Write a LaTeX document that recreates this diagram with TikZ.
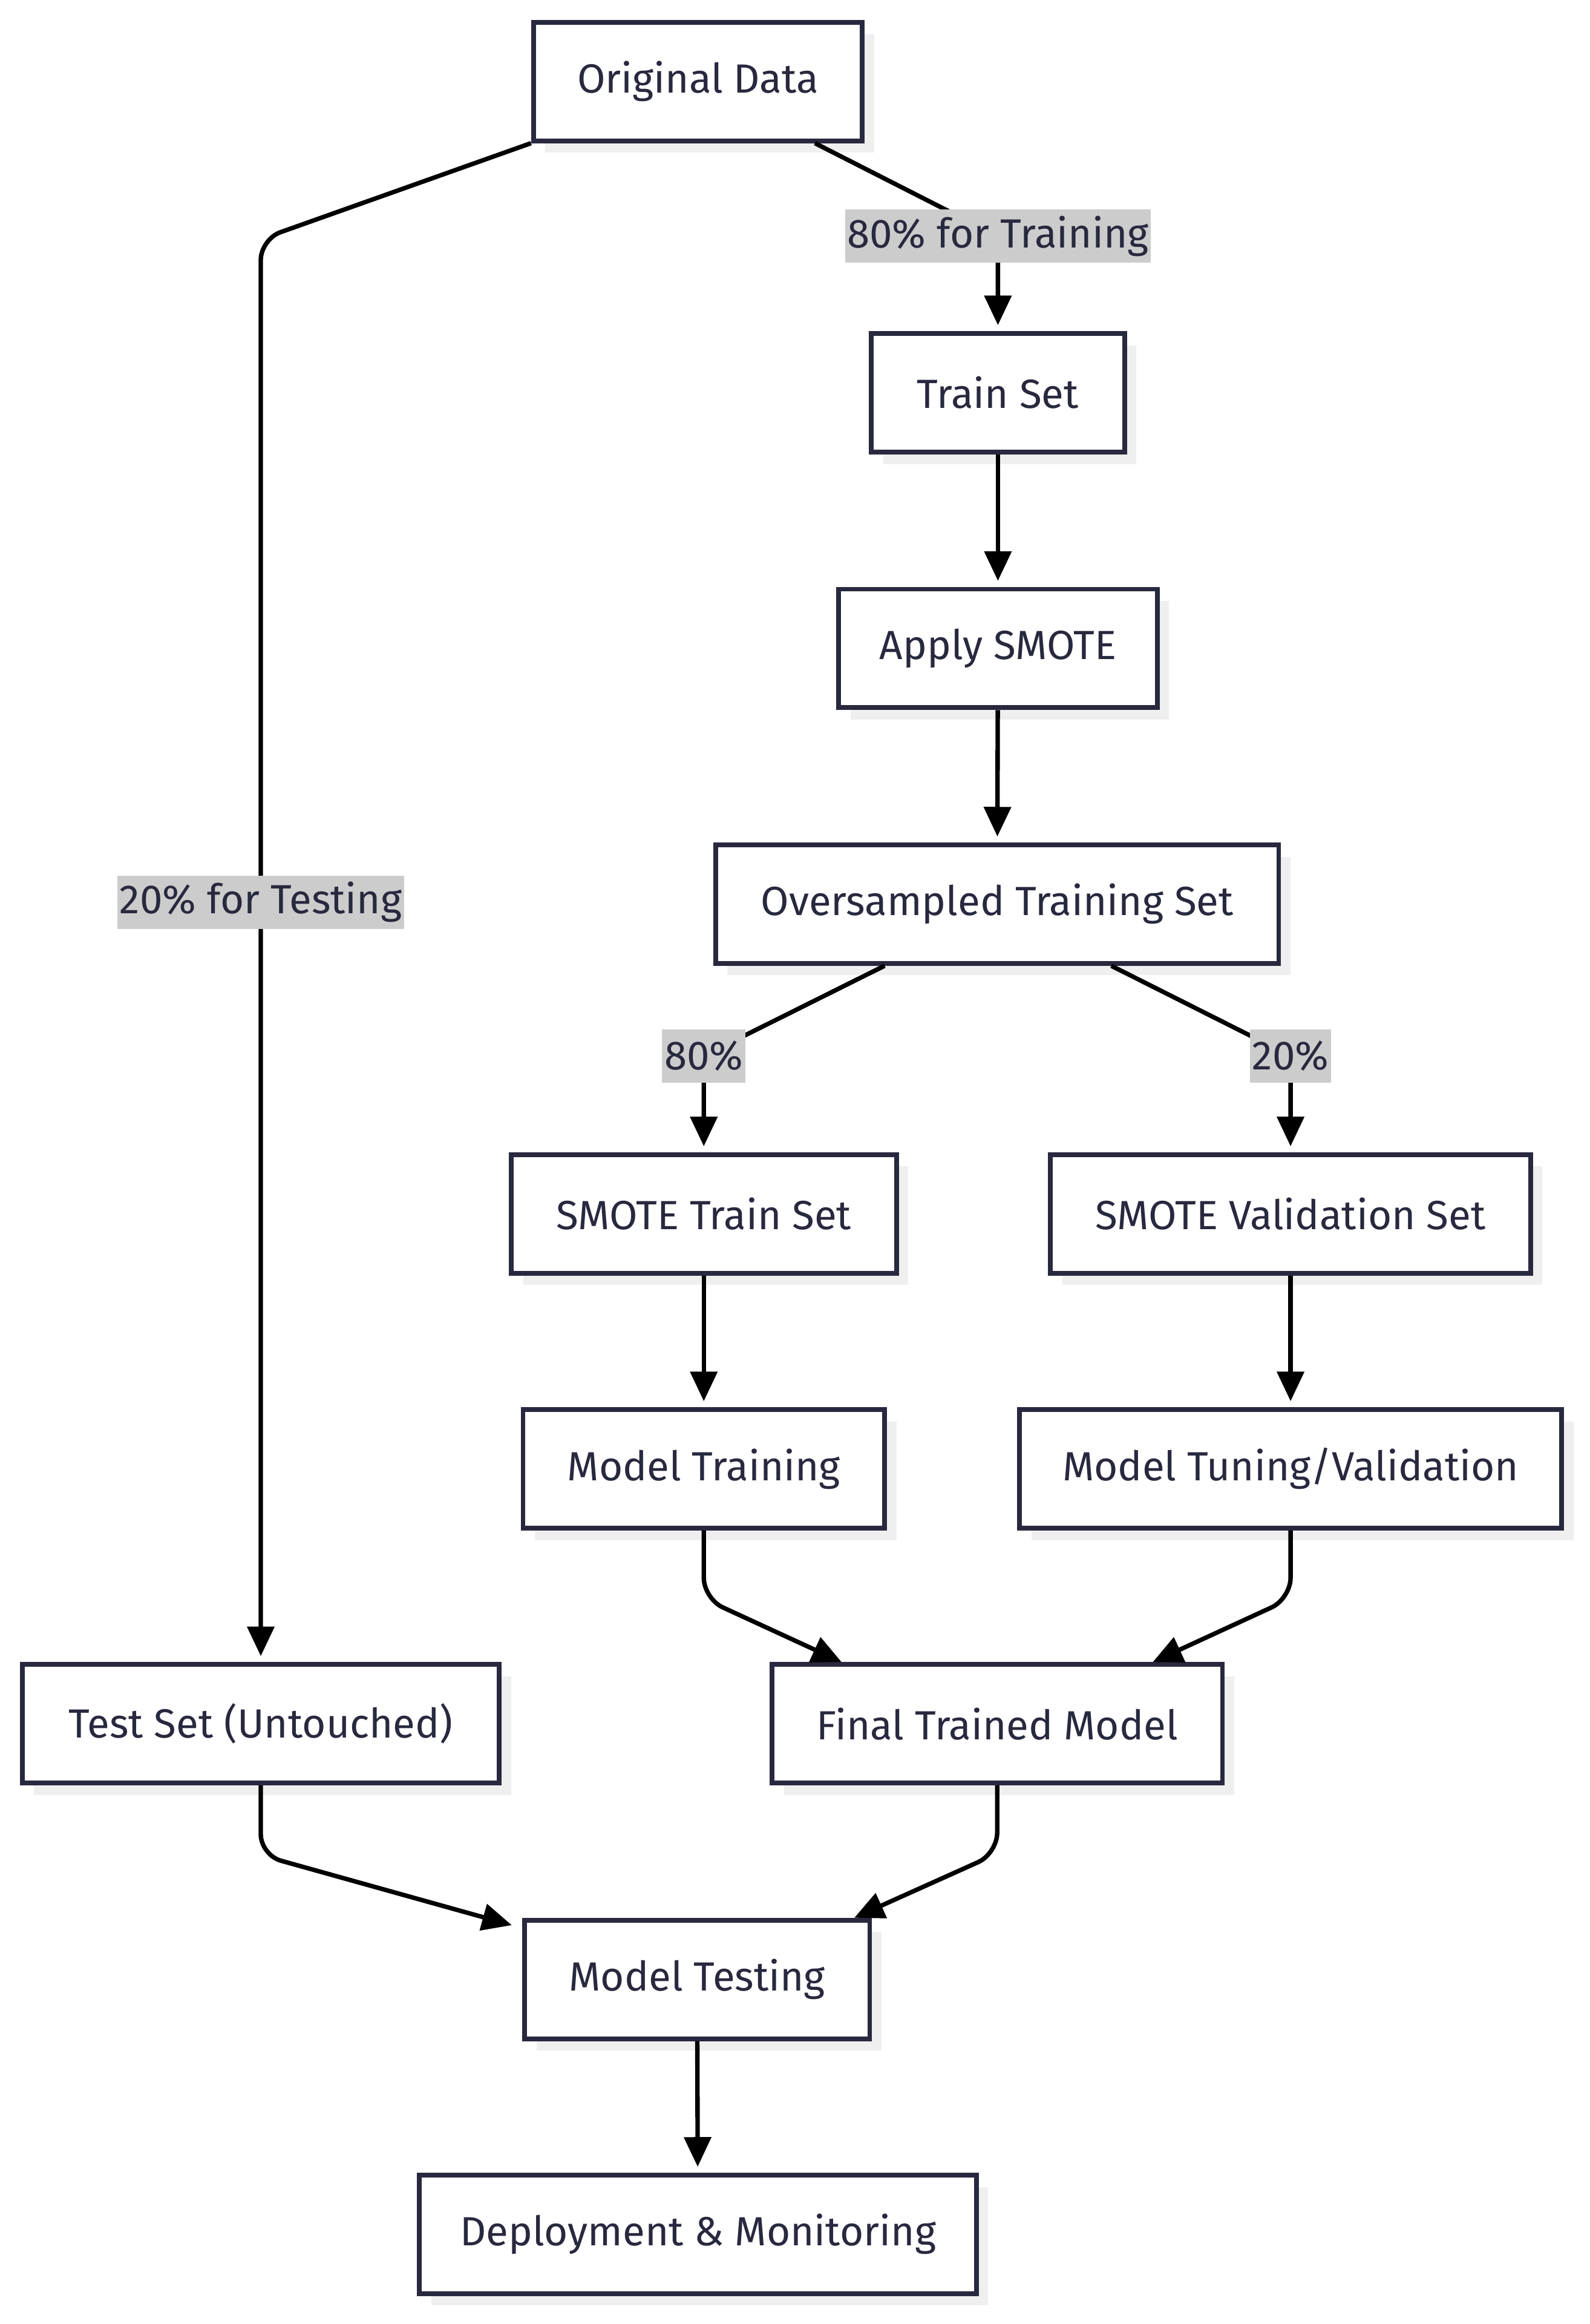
\documentclass[tikz,border=0pt]{standalone}
\usepackage{fontspec}
\setmainfont{Fira Sans}
\usetikzlibrary{shadows,arrows.meta,calc}
\definecolor{ink}{HTML}{28283F}
\definecolor{shade}{HTML}{EFEFEF}
\definecolor{lbl}{HTML}{CCCCCC}
\begin{document}
\begin{tikzpicture}[x=1pt,y=-1pt, font=\fontsize{27.5}{32}\selectfont,
  box/.style={draw=ink, line width=3.2pt, fill=white, text=ink, minimum height=80pt, inner sep=0pt,
    drop shadow={shadow xshift=8pt,shadow yshift=-8pt,fill=shade,opacity=1}},
  lab/.style={fill=lbl, text=ink, inner xsep=1.5pt, inner ysep=0pt, minimum height=36pt, sharp corners},
  edge/.style={draw=black, line width=3pt, -{Triangle[length=20pt,width=18pt]}, rounded corners=14pt, shorten >=4pt},
  dedge/.style={draw=black, line width=3pt, -{Triangle[length=20pt,width=18pt]}, rounded corners=14pt}]
\useasboundingbox (0,0) rectangle (1073,1568);
\fill[white] (0,0) rectangle (1073,1568);
% nodes
\node[box, minimum width=222pt] (od) at (471,55) {Original Data};
\node[box, minimum width=171pt] (ts) at (673.5,265) {Train Set};
\node[box, minimum width=215pt] (as) at (673.5,437.5) {Apply SMOTE};
\node[box, minimum width=380pt] (ov) at (673,610) {Oversampled Training Set};
\node[box, minimum width=260pt] (st) at (475,819) {SMOTE Train Set};
\node[box, minimum width=324pt] (sv) at (871,819) {SMOTE Validation Set};
\node[box, minimum width=244pt] (mtr) at (475,991) {Model Training};
\node[box, minimum width=366pt] (mtu) at (871,991) {Model Tuning/Validation};
\node[box, minimum width=322pt] (tst) at (176,1163) {Test Set (Untouched)};
\node[box, minimum width=304pt] (ftm) at (673,1163) {Final Trained Model};
\node[box, minimum width=233pt] (mte) at (470.5,1335.5) {Model Testing};
\node[box, minimum width=376pt] (dep) at (471,1507.5) {Deployment \& Monitoring};
% edges
\draw[edge] ([xshift=79pt]od.south) -- ($(ts.north)+(0,-64)$) node[lab]{80\% for Training} -- (ts.north);
\draw[edge] (od.south west) -- ($(tst.north)+(0,-960)$) -- node[lab,pos=0.466]{20\% for Testing} (tst.north);
\draw[edge] (ts) -- (as);
\draw[edge] (as) -- (ov);
\draw[edge] ([xshift=-76pt]ov.south) -- ($(st.north)+(0,-65)$) node[lab]{80\%} -- (st.north);
\draw[edge] ([xshift=77pt]ov.south) -- ($(sv.north)+(0,-65)$) node[lab]{20\%} -- (sv.north);
\draw[edge] (st) -- (mtr);
\draw[edge] (sv) -- (mtu);
\draw[dedge] (mtr.south) -- ++(0,46) -- ([xshift=-105pt]ftm.north);
\draw[dedge] (mtu.south) -- ++(0,46) -- ([xshift=105pt]ftm.north);
\draw[dedge] (tst.south) -- ++(0,47) -- ([xshift=-7pt,yshift=-5pt]mte.north west);
\draw[dedge] (ftm.south) -- ++(0,46) -- ([xshift=-12pt]mte.north east);
\draw[edge] (mte) -- (dep);
\end{tikzpicture}
\end{document}
